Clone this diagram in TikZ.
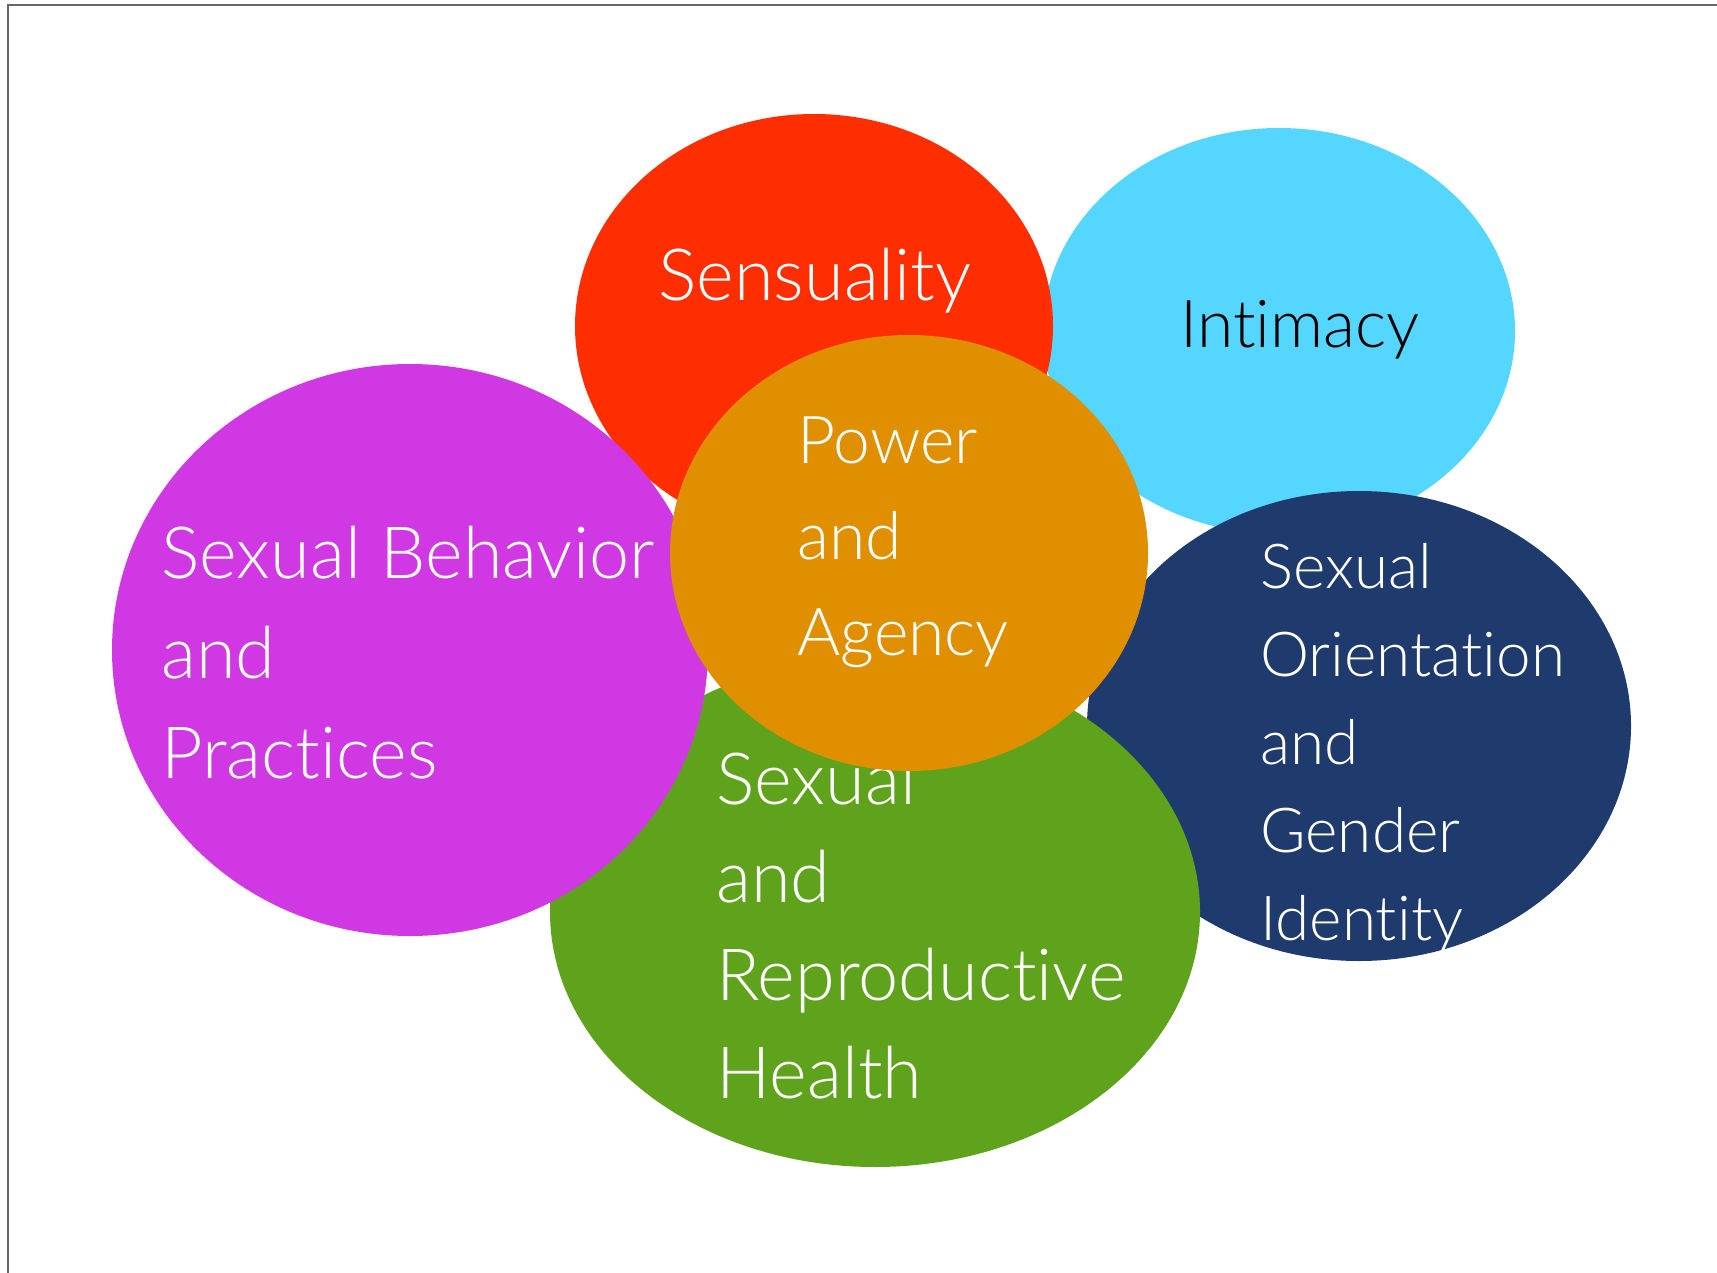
\documentclass[tikz,border=0pt]{standalone}
\usepackage{fontspec}
\setmainfont{Lato Light}[Ligatures=NoCommon]
\definecolor{cyanfill}{HTML}{55D6FE}
\definecolor{redfill}{HTML}{FF2E00}
\definecolor{navyfill}{HTML}{1F3B6D}
\definecolor{greenfill}{HTML}{5FA31D}
\definecolor{magentafill}{HTML}{CF38E3}
\definecolor{orangefill}{HTML}{DF8F00}

\begin{document}
\begin{tikzpicture}[x=0.5pt, y=-0.5pt,
    topic/.style={anchor=base west, align=left, inner sep=0pt, text=white}]

    \useasboundingbox (0,0) rectangle (1717,1273);
    \draw[gray!80!black, line width=0.8pt] (8,1273) -- (8,5) -- (1717,5);

    % back to front, each text sits on the base of its last line
    \fill[cyanfill] (1279,331) ellipse [x radius=118pt, y radius=101.5pt];
    \node[topic, text=black, font=\fontsize{33}{46}\selectfont] (intimacy) at (1180,347) {Intimacy};

    \fill[redfill] (814,326) ellipse [x radius=119.5pt, y radius=106pt];
    \node[topic, font=\fontsize{36}{50}\selectfont] (sensuality) at (658,300) {Sensuality};

    \fill[navyfill] (1359,726) ellipse [x radius=136pt, y radius=117.5pt];
    \node[topic, font=\fontsize{31}{44}\selectfont] (orientation) at (1260,940)
        {Sexual\\Orientation\\and\\Gender\\Identity};

    \fill[greenfill] (875,912) ellipse [x radius=162.5pt, y radius=127.5pt];
    \node[topic, font=\fontsize{36}{49}\selectfont] (health) at (716,1098)
        {Sexual\\and\\Reproductive\\Health};

    \fill[magentafill] (410,650) ellipse [x radius=149pt, y radius=143pt];
    \node[topic, font=\fontsize{36}{50}\selectfont] (behavior) at (161,778)
        {Sexual Behavior\\and\\Practices};

    \fill[orangefill] (909,553) ellipse [x radius=119.5pt, y radius=109pt];
    \node[topic, font=\fontsize{33}{48}\selectfont] (power) at (797,655)
        {Power\\and\\Agency};

\end{tikzpicture}
\end{document}
